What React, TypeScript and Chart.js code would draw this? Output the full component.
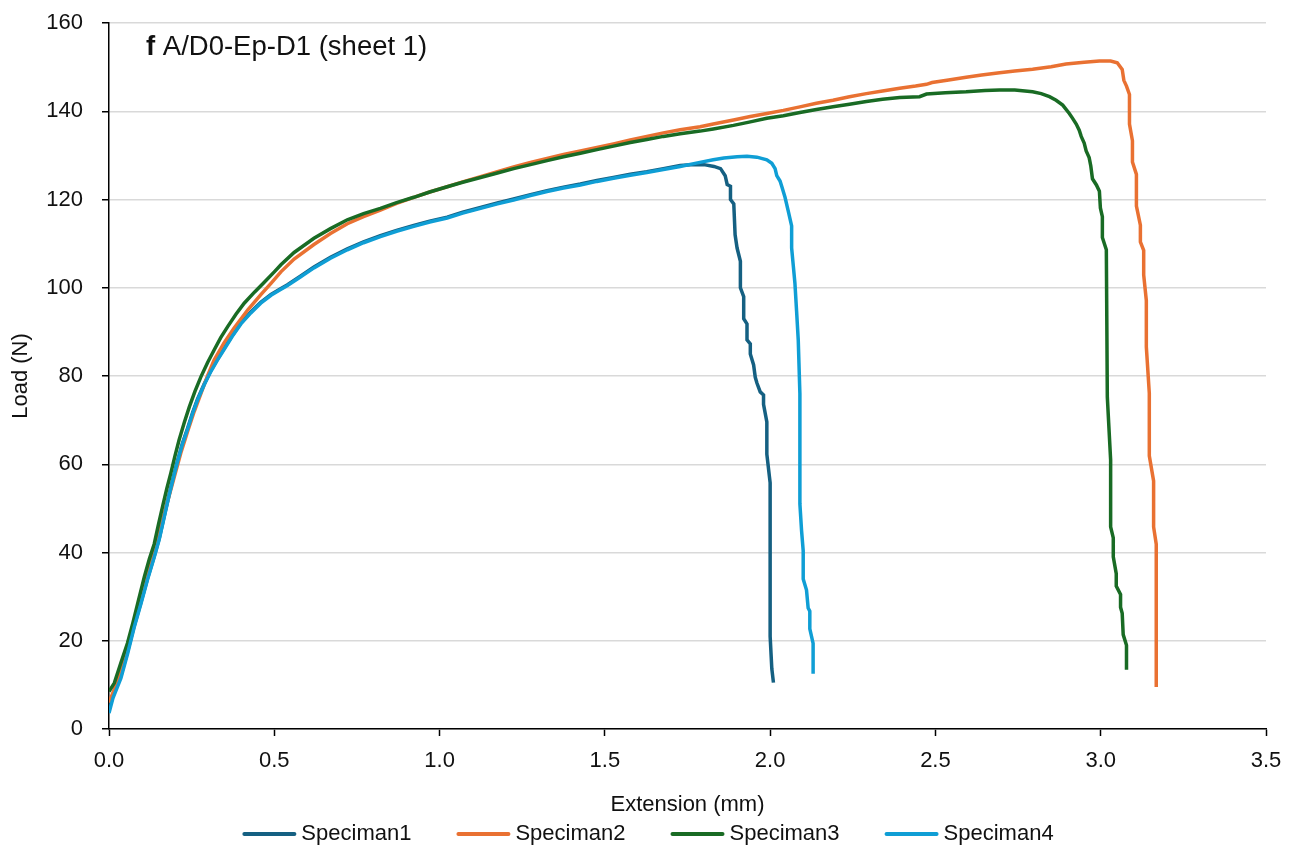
import React, { useEffect, useRef } from "react";
import { Chart, registerables } from "chart.js";

Chart.register(...registerables);

// Extension (mm) / Load (N) readings for each specimen
const spec1Ext = [0.0, 0.012, 0.036, 0.056, 0.076, 0.097, 0.117, 0.137, 0.152, 0.167, 0.182, 0.195, 0.207, 0.222, 0.238, 0.253, 0.268, 0.288, 0.308, 0.328, 0.348, 0.373, 0.399, 0.429, 0.459, 0.49, 0.519, 0.54, 0.58, 0.62, 0.67, 0.721, 0.77, 0.821, 0.87, 0.922, 0.97, 1.023, 1.07, 1.124, 1.175, 1.224, 1.275, 1.325, 1.375, 1.426, 1.476, 1.526, 1.577, 1.627, 1.677, 1.728, 1.76, 1.8, 1.83, 1.85, 1.864, 1.87, 1.88, 1.88, 1.89, 1.894, 1.9, 1.91, 1.91, 1.92, 1.92, 1.93, 1.93, 1.94, 1.94, 1.95, 1.955, 1.96, 1.97, 1.98, 1.98, 1.99, 1.99, 2.0, 2.0, 2.005, 2.01];
const spec1Load = [4.5, 7.5, 12, 17.5, 23.3, 28.8, 34.2, 39.2, 43.2, 48.2, 53.2, 57.2, 60.7, 64.7, 68.2, 71.7, 74.8, 78.2, 81.2, 83.8, 86.2, 89.2, 92, 94.5, 96.7, 98.5, 99.8, 100.7, 102.7, 104.7, 106.9, 108.8, 110.4, 111.8, 113, 114.1, 115.1, 116, 117.1, 118.2, 119.2, 120.1, 121.1, 122, 122.8, 123.5, 124.3, 125, 125.7, 126.3, 127, 127.7, 127.9, 127.9, 127.5, 127, 125.4, 123.4, 123, 120, 119, 112, 109, 106, 100, 98, 93, 91.8, 88.2, 87.3, 85, 82.5, 79.7, 78.4, 76.4, 75.7, 73.6, 69.6, 62.3, 55.8, 21, 13.7, 10.5];

const spec2Ext = [0.0, 0.016, 0.036, 0.056, 0.076, 0.097, 0.117, 0.137, 0.157, 0.177, 0.197, 0.217, 0.238, 0.258, 0.278, 0.298, 0.318, 0.348, 0.378, 0.42, 0.46, 0.49, 0.52, 0.56, 0.62, 0.67, 0.721, 0.77, 0.821, 0.87, 0.922, 0.97, 1.023, 1.07, 1.124, 1.175, 1.224, 1.275, 1.325, 1.375, 1.426, 1.476, 1.526, 1.577, 1.627, 1.677, 1.728, 1.788, 1.828, 1.889, 1.94, 1.99, 2.04, 2.09, 2.14, 2.19, 2.24, 2.291, 2.34, 2.392, 2.44, 2.473, 2.49, 2.54, 2.593, 2.64, 2.694, 2.74, 2.794, 2.85, 2.895, 2.95, 2.996, 3.03, 3.05, 3.065, 3.07, 3.078, 3.087, 3.087, 3.096, 3.096, 3.108, 3.108, 3.12, 3.12, 3.13, 3.13, 3.138, 3.138, 3.147, 3.147, 3.16, 3.16, 3.168, 3.168];
const spec2Load = [6, 9, 13.5, 18.5, 24, 29.5, 35, 40.5, 46, 51.5, 57, 62.5, 67.5, 72, 76, 80, 83.6, 87.5, 90.8, 95, 98.5, 101, 103.6, 106.5, 109.8, 112.3, 114.5, 116.1, 117.6, 119.1, 120.5, 121.7, 122.9, 124, 125.2, 126.3, 127.4, 128.4, 129.3, 130.2, 131, 131.8, 132.6, 133.5, 134.3, 135.1, 135.8, 136.5, 137.1, 138, 138.8, 139.5, 140.2, 141, 141.8, 142.5, 143.3, 144, 144.6, 145.2, 145.7, 146.1, 146.5, 147.1, 147.7, 148.2, 148.7, 149.1, 149.5, 150.1, 150.7, 151.1, 151.4, 151.4, 151, 149.5, 147, 145.7, 143.8, 137.1, 133.3, 128.5, 125.7, 118.5, 114.2, 110.4, 108.5, 102.9, 97.1, 86.6, 76.1, 61.9, 56.2, 45.8, 41.9, 9.5];

const spec3Ext = [0.0, 0.016, 0.036, 0.056, 0.072, 0.087, 0.107, 0.122, 0.137, 0.15, 0.162, 0.175, 0.187, 0.2, 0.212, 0.228, 0.243, 0.26, 0.278, 0.298, 0.318, 0.338, 0.359, 0.384, 0.409, 0.44, 0.469, 0.5, 0.52, 0.56, 0.62, 0.67, 0.721, 0.77, 0.821, 0.87, 0.922, 0.97, 1.023, 1.07, 1.124, 1.175, 1.224, 1.275, 1.325, 1.375, 1.426, 1.476, 1.526, 1.577, 1.627, 1.677, 1.728, 1.788, 1.828, 1.889, 1.94, 1.99, 2.04, 2.09, 2.14, 2.19, 2.24, 2.291, 2.34, 2.392, 2.452, 2.473, 2.53, 2.593, 2.65, 2.694, 2.74, 2.794, 2.82, 2.845, 2.865, 2.885, 2.905, 2.914, 2.926, 2.935, 2.941, 2.95, 2.956, 2.965, 2.97, 2.975, 2.987, 2.996, 2.999, 3.005, 3.005, 3.017, 3.02, 3.03, 3.03, 3.038, 3.038, 3.047, 3.047, 3.06, 3.06, 3.065, 3.068, 3.078, 3.078];
const spec3Load = [8.5, 10.4, 15, 19.5, 24, 28.5, 34.5, 38.5, 42, 46.5, 50.4, 54.5, 58, 62, 65.5, 69.5, 73, 76.5, 79.8, 83, 85.9, 88.7, 91.2, 94, 96.5, 99, 101.2, 103.6, 105.2, 108, 111.2, 113.4, 115.4, 116.8, 118, 119.3, 120.5, 121.7, 122.9, 123.9, 125, 126, 127, 127.9, 128.8, 129.7, 130.5, 131.3, 132.1, 132.9, 133.6, 134.3, 134.9, 135.5, 136, 136.8, 137.6, 138.4, 139, 139.7, 140.4, 141, 141.6, 142.2, 142.7, 143.1, 143.3, 143.9, 144.2, 144.4, 144.7, 144.8, 144.8, 144.4, 144, 143.3, 142.5, 141.4, 139.5, 138.5, 137.1, 135.7, 134.3, 132.8, 131, 129.5, 127.6, 124.7, 123.3, 121.9, 118.1, 116.1, 111.4, 108.6, 75.2, 61, 45.8, 43.3, 39, 35.2, 32.4, 30.5, 27.6, 26.2, 21.4, 19, 13.4];

const spec4Ext = [0.0, 0.012, 0.036, 0.056, 0.076, 0.097, 0.117, 0.137, 0.152, 0.167, 0.182, 0.195, 0.207, 0.222, 0.238, 0.253, 0.268, 0.288, 0.308, 0.328, 0.348, 0.373, 0.399, 0.429, 0.459, 0.49, 0.519, 0.54, 0.58, 0.62, 0.67, 0.721, 0.77, 0.821, 0.87, 0.922, 0.97, 1.023, 1.07, 1.124, 1.175, 1.224, 1.275, 1.325, 1.375, 1.426, 1.476, 1.526, 1.577, 1.627, 1.677, 1.728, 1.78, 1.828, 1.86, 1.9, 1.93, 1.96, 1.99, 2.005, 2.015, 2.02, 2.03, 2.035, 2.045, 2.055, 2.065, 2.065, 2.07, 2.075, 2.08, 2.085, 2.09, 2.09, 2.095, 2.1, 2.1, 2.11, 2.115, 2.12, 2.12, 2.13, 2.13];
const spec4Load = [3.6, 7, 11.5, 17, 23, 28.5, 34, 39, 43, 48, 53, 57, 60.5, 64.5, 68, 71.5, 74.6, 78, 81, 83.6, 86, 89, 91.8, 94.3, 96.5, 98.3, 99.6, 100.5, 102.5, 104.5, 106.7, 108.6, 110.2, 111.6, 112.8, 113.9, 114.9, 115.8, 116.9, 118, 119, 119.9, 120.9, 121.8, 122.6, 123.3, 124.1, 124.8, 125.5, 126.1, 126.8, 127.5, 128.3, 129, 129.4, 129.7, 129.8, 129.6, 129, 128.2, 127, 125.4, 124.2, 123, 120.5, 117.3, 114, 109, 105, 101, 94.7, 88.2, 76, 51, 45, 40.4, 34, 31.5, 27.4, 26.7, 22.7, 19.4, 12.5];

const seriesNames = ["Speciman1", "Speciman2", "Speciman3", "Speciman4"];
const seriesColors = ["#156082", "#E97132", "#196B24", "#0F9ED5"];
const seriesExt = [spec1Ext, spec2Ext, spec3Ext, spec4Ext];
const seriesLoad = [spec1Load, spec2Load, spec3Load, spec4Load];

const xTicks = [0, 0.5, 1, 1.5, 2, 2.5, 3, 3.5];
const yTicks = [0, 20, 40, 60, 80, 100, 120, 140, 160];

const panelLetter = "f";
const panelTitle = "A/D0-Ep-D1 (sheet 1)";
const xTitle = "Extension (mm)";
const yTitle = "Load (N)";

const FONT = "'Liberation Sans', Arial, sans-serif";
const TEXT = "#111111";

// Panel caption inside the plot and the legend row under the axis title
const annotations = {
  id: "annotations",
  afterDraw(chart: any) {
    const { ctx, chartArea } = chart;
    ctx.save();
    ctx.fillStyle = TEXT;
    ctx.textBaseline = "alphabetic";
    ctx.textAlign = "left";
    const tx = chartArea.left + 37;
    const ty = chartArea.top + 32;
    ctx.font = `bold 27.5px ${FONT}`;
    ctx.fillText(panelLetter, tx, ty);
    const lw = ctx.measureText(panelLetter + " ").width;
    ctx.font = `27.5px ${FONT}`;
    ctx.fillText(panelTitle, tx + lw, ty);

    // legend
    ctx.font = `22px ${FONT}`;
    ctx.textBaseline = "middle";
    const lineLen = 54;
    const gap = 5;
    const itemGap = 45;
    const widths = seriesNames.map((n) => ctx.measureText(n).width);
    const total =
      widths.reduce((a, w) => a + lineLen + gap + w, 0) + itemGap * (seriesNames.length - 1);
    let x = 648 - total / 2;
    const y = 834;
    seriesNames.forEach((name, i) => {
      ctx.strokeStyle = seriesColors[i];
      ctx.lineWidth = 4;
      ctx.lineCap = "round";
      ctx.beginPath();
      ctx.moveTo(x + 2, y);
      ctx.lineTo(x + lineLen - 2, y);
      ctx.stroke();
      ctx.fillStyle = TEXT;
      ctx.fillText(name, x + lineLen + gap, y);
      x += lineLen + gap + widths[i] + itemGap;
    });
    ctx.restore();
  },
};

export default function App() {
  const canvasRef = useRef<HTMLCanvasElement | null>(null);

  useEffect(() => {
    if (!canvasRef.current) return;
    Chart.defaults.font.family = FONT;
    const datasets = seriesNames.map((name, i) => ({
      label: name,
      data: seriesExt[i].map((x, j) => ({ x, y: seriesLoad[i][j] })),
      borderColor: seriesColors[i],
      backgroundColor: seriesColors[i],
      borderWidth: 3.5,
      pointRadius: 0,
      tension: 0,
      fill: false,
      order: seriesNames.length - i,
    }));

    const chart = new Chart(canvasRef.current, {
      type: "line",
      data: { datasets },
      options: {
        animation: false,
        responsive: false,
        events: [],
        layout: { padding: { left: 0, top: 23, right: 31, bottom: 0 } },
        plugins: {
          legend: { display: false },
          tooltip: { enabled: false },
          title: { display: false },
        },
        scales: {
          x: {
            type: "linear",
            min: 0,
            max: 3.5,
            afterBuildTicks: (scale: any) => {
              scale.ticks = xTicks.map((v) => ({ value: v }));
            },
            afterFit: (scale: any) => {
              scale.height = 121;
            },
            ticks: {
              color: TEXT,
              font: { size: 22, family: FONT },
              padding: 12,
              maxRotation: 0,
              callback: (v: any) => Number(v).toFixed(1),
            },
            grid: {
              drawOnChartArea: false,
              drawTicks: true,
              tickLength: 7,
              tickColor: "#000",
              tickWidth: 1.5,
            },
            border: { color: "#000", width: 1.5 },
            title: {
              display: true,
              text: xTitle,
              color: TEXT,
              font: { size: 22, family: FONT },
              padding: { top: 0, bottom: 32 },
            },
          },
          y: {
            type: "linear",
            min: 0,
            max: 160,
            afterBuildTicks: (scale: any) => {
              scale.ticks = yTicks.map((v) => ({ value: v }));
            },
            afterFit: (scale: any) => {
              scale.width = 109;
              scale.paddingTop = 0;
              scale.paddingBottom = 0;
            },
            ticks: {
              color: TEXT,
              font: { size: 22, family: FONT },
              padding: 19,
            },
            grid: {
              color: "#d9d9d9",
              lineWidth: 1.5,
              drawTicks: true,
              tickLength: 7,
              tickColor: "#000",
              tickWidth: 1.5,
            },
            border: { color: "#000", width: 1.5 },
            title: {
              display: true,
              text: yTitle,
              color: TEXT,
              font: { size: 22, family: FONT },
              padding: { top: 8, bottom: 0 },
            },
          },
        },
      },
      plugins: [annotations],
    } as any);

    return () => chart.destroy();
  }, []);

  return (
    <div style={{ position: "absolute", left: 0, top: 0, width: 1297, height: 850, background: "#fff" }}>
      <canvas ref={canvasRef} width={1297} height={850} />
    </div>
  );
}
